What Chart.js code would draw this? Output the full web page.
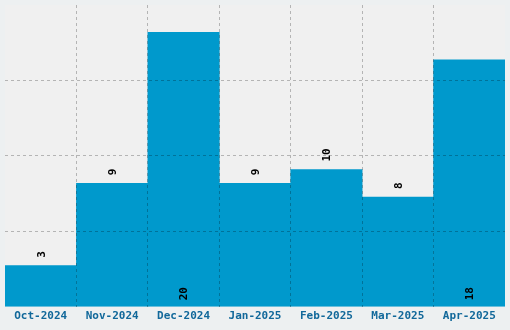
<!DOCTYPE html>
<html>
<head>
<meta charset="utf-8">
<script src="https://cdn.jsdelivr.net/npm/chart.js@4/dist/chart.umd.min.js"></script>
<style>
html,body{margin:0;padding:0;background:#edf0f1;}
#wrap{width:510px;height:330px;position:relative;}
</style>
</head>
<body>
<div id="wrap"><canvas id="c" width="510" height="330"></canvas></div>
<script>
const categories = ["Oct-2024","Nov-2024","Dec-2024","Jan-2025","Feb-2025","Mar-2025","Apr-2025"];
const counts = [3, 9, 20, 9, 10, 8, 18];
const yMax = 22;
const yStep = 5.5;

const bgPlugin = {
  id: 'bg',
  beforeDraw(chart) {
    const {ctx, chartArea: a} = chart;
    ctx.save();
    ctx.fillStyle = '#edf0f1';
    ctx.fillRect(0, 0, chart.width, chart.height);
    ctx.fillStyle = '#f0f0f0';
    ctx.fillRect(a.left, a.top, a.right - a.left, a.bottom - a.top);
    ctx.restore();
  }
};

const labelPlugin = {
  id: 'vlabels',
  afterDraw(chart) {
    const {ctx, chartArea: a} = chart;
    const meta = chart.getDatasetMeta(0);
    const h = a.bottom - a.top;
    ctx.save();
    ctx.font = 'bold 11px "DejaVu Sans Mono", monospace';
    ctx.fillStyle = '#000';
    ctx.textBaseline = 'middle';
    ctx.textAlign = 'left';
    meta.data.forEach((bar, i) => {
      const txt = String(counts[i]);
      let y;
      if ((bar.base - bar.y) < 0.7 * h) {
        y = bar.y - 8;
      } else {
        y = bar.base - 6;
      }
      ctx.save();
      ctx.translate(bar.x + 1, y);
      ctx.rotate(-Math.PI / 2);
      ctx.fillText(txt, 0, 0);
      ctx.restore();
    });
    ctx.restore();
  }
};

new Chart(document.getElementById('c'), {
  type: 'bar',
  data: {
    labels: categories,
    datasets: [{
      data: counts,
      backgroundColor: '#0099cc',
      borderWidth: 0,
      categoryPercentage: 1,
      barPercentage: 1
    }]
  },
  options: {
    responsive: false,
    animation: false,
    devicePixelRatio: 1,
    layout: {padding: {left: 5, right: 5, top: 5, bottom: 4}},
    plugins: {legend: {display: false}, tooltip: {enabled: false}},
    scales: {
      x: {
        offset: true,
        border: {display: false, dash: [3, 3]},
        grid: {
          z: 1,
          offset: true,
          drawTicks: false,
          color: (c) => (c.index === undefined || c.index === 0 || c.index >= categories.length) ? 'rgba(0,0,0,0)' : 'rgba(0,0,0,0.25)',
          lineWidth: 1
        },
        ticks: {
          color: '#11689a',
          font: {family: '"DejaVu Sans Mono", monospace', size: 11, weight: 'bold'},
          padding: 3,
          maxRotation: 0,
          autoSkip: false
        }
      },
      y: {
        min: 0,
        max: yMax,
        border: {display: false, dash: [3, 3]},
        grid: {
          z: 1,
          drawTicks: false,
          color: (c) => (c.tick && (c.tick.value === 0 || c.tick.value === yMax)) ? 'rgba(0,0,0,0)' : 'rgba(0,0,0,0.25)',
          lineWidth: 1
        },
        ticks: {display: false, stepSize: yStep}
      }
    }
  },
  plugins: [bgPlugin, labelPlugin]
});
</script>
</body>
</html>
